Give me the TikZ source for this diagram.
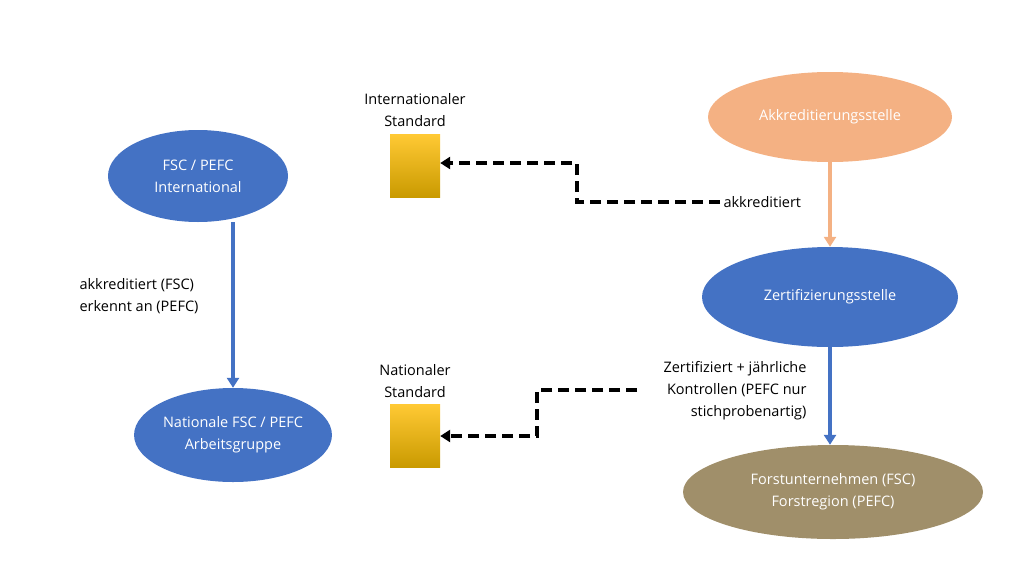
\documentclass[tikz,border=0pt]{standalone}
\usepackage{fontspec}
\setmainfont{Open Sans}
\usetikzlibrary{shapes.geometric,arrows.meta}
\definecolor{ellblue}{HTML}{4472C4}
\definecolor{ellorange}{HTML}{F4B183}
\definecolor{ellbrown}{HTML}{A08F6A}
\definecolor{docTop}{HTML}{FFC934}
\definecolor{docBot}{HTML}{C99A00}
\begin{document}
\begin{tikzpicture}[x=1pt,y=-1pt,
  ell/.style = {ellipse, fill=ellblue, text=white, align=center, font=\fontsize{14.5}{22}\selectfont, inner sep=0pt},
  doc/.style = {minimum width=50pt, minimum height=63pt, inner sep=0pt, top color=docTop, bottom color=docBot, draw=none},
  lbl/.style = {font=\fontsize{14.5}{22}\selectfont, align=center},
  solid arrow/.style = {line width=4pt, -{Triangle[length=10pt,width=12pt]}},
  dash arrow/.style = {line width=4pt, black, dash pattern=on 11pt off 6pt, -{Triangle[length=10pt,width=12pt]}}]
\useasboundingbox (0,0) rectangle (1024,576);

\node[ell, minimum width=180pt, minimum height=92pt] (FI) at (198,176) {FSC / PEFC\\International};
\node[ell, minimum width=180pt, minimum height=94pt] (NA) at (233,435) {Nationale FSC / PEFC\\Arbeitsgruppe};
\node[ell, fill=ellorange, minimum width=244pt, minimum height=90pt] (AK) at (830,117) {Akkreditierungsstelle};
\node[ell, minimum width=256pt, minimum height=100pt] (ZE) at (830,297) {Zertifizierungsstelle};
\node[ell, fill=ellbrown, minimum width=300pt, minimum height=94pt] (FO) at (833,492) {Forstunternehmen (FSC)\\Forstregion (PEFC)};

\node[doc] (IS) at (415,166) {};
\node[doc] (NS) at (415,436) {};
\node[lbl, anchor=south] (ISt) at (415,130) {Internationaler\\Standard};
\node[lbl, anchor=south] (NSt) at (415,401) {Nationaler\\Standard};

\node[lbl, align=left, anchor=west] (L1) at (76,296) {akkreditiert (FSC)\\erkennt an (PEFC)};
\node[lbl, anchor=west] (L2) at (720,202) {akkreditiert};
\node[lbl, align=right, anchor=north east] (L3) at (810,358) {Zertifiziert + jährliche\\Kontrollen (PEFC nur\\stichprobenartig)};

\coordinate (D1) at (577,202);
\coordinate (D2) at (577,163);
\coordinate (D3) at (637,390);
\coordinate (D4) at (537,390);
\coordinate (D5) at (537,436);

\draw[solid arrow, ellblue] (FI.south -| NA) -- (NA.north);
\draw[solid arrow, ellorange] (AK.south) -- (ZE.north);
\draw[solid arrow, ellblue] (ZE.south) -- (FO.north -| ZE);
\draw[dash arrow] (L2.west) -- (D1) -- (D2) -- (IS.east |- D2);
\draw[dash arrow] (D3) -- (D4) -- (D5) -- (NS.east |- D5);
\end{tikzpicture}
\end{document}
